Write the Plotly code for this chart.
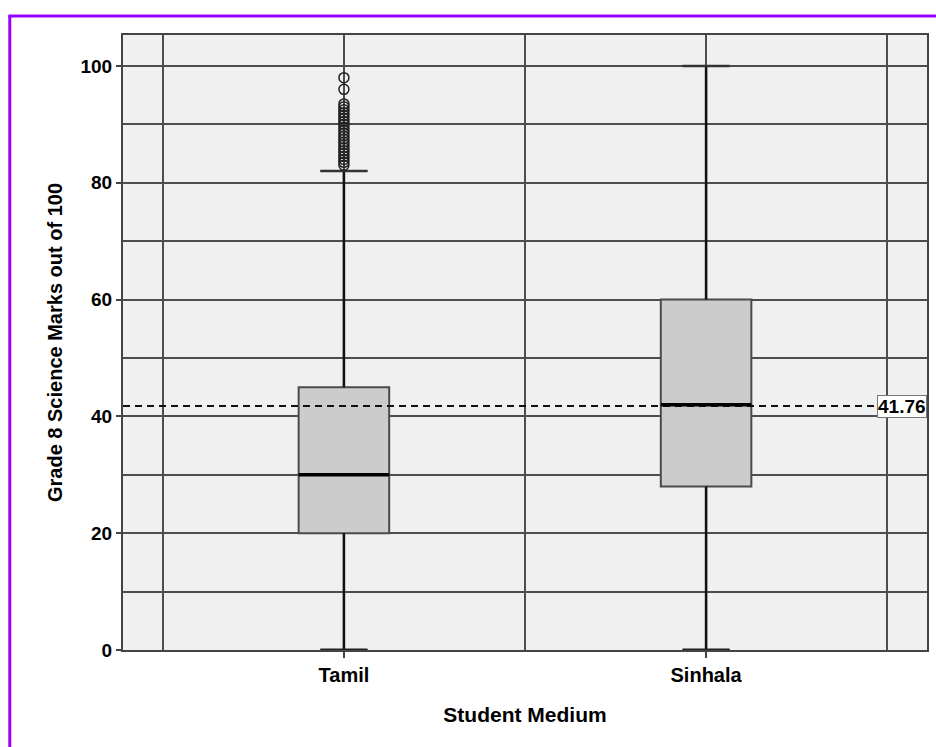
import plotly.graph_objects as go

# Box-plot summaries of Grade 8 science marks by medium of instruction
categories = ["Tamil", "Sinhala"]
q1 = [20, 28]
medians = [30, 42]
q3 = [45, 60]
lower_whisker = [0, 0]
upper_whisker = [82, 100]

# Tamil-medium outliers above the upper whisker
tamil_outliers = [83, 83.5, 84, 84.5, 85, 85.5, 86, 86.5, 87, 87.5, 88, 88.5,
                  89, 89.5, 90, 90.5, 91, 91.5, 92, 92.5, 93, 93.5, 96, 98]

overall_mean = 41.76

y_ticks = [0, 20, 40, 60, 80, 100]

W, H = 936, 747
ML, MR, MT, MB = 123, 7, 35, 97
X_RANGE = [-0.61, 1.61]
Y_RANGE = [0, 105.3]
BOX_W = 0.25
CAP_W = 0.13

FONT = "Liberation Sans, Arial, sans-serif"
GRID = "#4d4d4d"

fig = go.Figure()

def seg(x0, x1, y0, y1, color, width, dash=None):
    fig.add_trace(go.Scatter(
        x=[x0, x1], y=[y0, y1], mode="lines",
        line=dict(color=color, width=width, dash=dash),
        showlegend=False, hoverinfo="skip", cliponaxis=False,
    ))

for i, cat in enumerate(categories):
    fig.add_trace(go.Box(
        x=[i], q1=[q1[i]], median=[medians[i]], q3=[q3[i]],
        lowerfence=[lower_whisker[i]], upperfence=[upper_whisker[i]],
        width=BOX_W, whiskerwidth=CAP_W / BOX_W,
        fillcolor="#cccccc", line=dict(color="#4a4a4a", width=2),
        boxpoints=False, showlegend=False, name=cat, hoverinfo="skip",
    ))
    # heavier whisker stems and caps
    seg(i, i, q3[i], upper_whisker[i], "#111111", 2.5)
    seg(i, i, q1[i], lower_whisker[i], "#111111", 2.5)
    seg(i - CAP_W / 2, i + CAP_W / 2, upper_whisker[i], upper_whisker[i], "#333333", 2.5)
    seg(i - CAP_W / 2, i + CAP_W / 2, lower_whisker[i], lower_whisker[i], "#222222", 3)

# outlier circles
fig.add_trace(go.Scatter(
    x=[0] * len(tamil_outliers), y=tamil_outliers, mode="markers",
    marker=dict(symbol="circle-open", size=10, color="#222222", line=dict(width=1.5)),
    showlegend=False, hoverinfo="skip",
))

# reference line at the overall mean
seg(X_RANGE[0], X_RANGE[1], overall_mean, overall_mean, "#111111", 2, "7px,5px")

# thick median bars drawn on top
for i in range(len(categories)):
    seg(i - BOX_W / 2, i + BOX_W / 2, medians[i], medians[i], "#000000", 3.5)

fig.add_annotation(
    x=1, xref="paper", xanchor="right", y=overall_mean, yref="y",
    text=f"{overall_mean:.2f}", showarrow=False,
    font=dict(family=FONT, size=19, color="#000000", weight="bold"),
    bgcolor="#ffffff", bordercolor="#777777", borderwidth=1, borderpad=0,
)

# violet frame around the output
pw, ph = W - ML - MR, H - MT - MB
def px_x(p):
    return (p - ML) / pw
def px_y(p):
    return (H - MB - p) / ph
frame = dict(color="#9900ff", width=3)
fig.add_shape(type="line", xref="paper", yref="paper",
              x0=px_x(8), x1=px_x(W + 2), y0=px_y(16), y1=px_y(16), line=frame)
fig.add_shape(type="line", xref="paper", yref="paper",
              x0=px_x(9.5), x1=px_x(9.5), y0=px_y(16), y1=px_y(H + 2), line=frame)

fig.update_layout(
    width=W, height=H,
    margin=dict(l=ML, r=MR, t=MT, b=MB),
    paper_bgcolor="#ffffff", plot_bgcolor="#f0f0f0",
    font=dict(family=FONT, color="#000000"),
    xaxis=dict(
        range=X_RANGE, tickvals=list(range(len(categories))), ticktext=categories,
        showgrid=True, gridcolor=GRID, gridwidth=1.5,
        minor=dict(tickvals=[-0.5, 0.5, 1.5], showgrid=True, gridcolor=GRID, gridwidth=1.5),
        showline=True, mirror=True, linecolor="#444444", linewidth=2,
        ticks="outside", ticklen=6, tickcolor="#444444", tickwidth=1.5,
        zeroline=False,
        tickfont=dict(size=20, family=FONT, weight="bold"),
        title=dict(text="Student Medium", font=dict(size=21, family=FONT, weight="bold"), standoff=22),
    ),
    yaxis=dict(
        range=Y_RANGE, tickvals=y_ticks,
        showgrid=True, gridcolor=GRID, gridwidth=1.5,
        minor=dict(dtick=10, tick0=0, showgrid=True, gridcolor=GRID, gridwidth=1.5),
        showline=True, mirror=True, linecolor="#444444", linewidth=2,
        ticks="outside", ticklen=5, tickcolor="#444444", tickwidth=1.5,
        zeroline=False,
        tickfont=dict(size=19, family=FONT, weight="bold"),
        title=dict(text="Grade 8 Science Marks out of 100",
                   font=dict(size=20, family=FONT, weight="bold"), standoff=12),
    ),
)

fig.write_html("out.html")
